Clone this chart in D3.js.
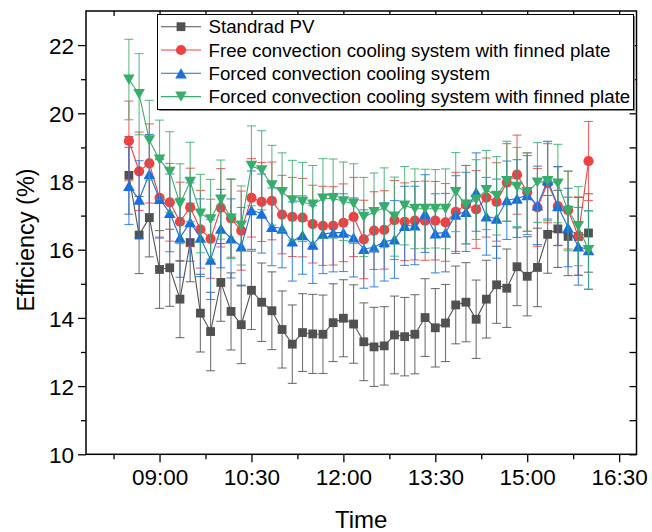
<!DOCTYPE html>
<html><head><meta charset="utf-8">
<script src="https://cdn.jsdelivr.net/npm/d3@7"></script>
<style>
body{margin:0;background:#fff}
svg{display:block}
text{font-family:"Liberation Sans",Arial,Helvetica,sans-serif;fill:#000}
</style>
</head><body>
<svg id="chart" width="652" height="532"></svg>
<script>
// ---------- DATA ----------
const times = ["08:30","08:40","08:50","09:00","09:10","09:20","09:30","09:40","09:50","10:00",
  "10:10","10:20","10:30","10:40","10:50","11:00","11:10","11:20","11:30","11:40",
  "11:50","12:00","12:10","12:20","12:30","12:40","12:50","13:00","13:10","13:20",
  "13:30","13:40","13:50","14:00","14:10","14:20","14:30","14:40","14:50","15:00",
  "15:10","15:20","15:30","15:40","15:50","16:00"];

const seriesNames = ["Standrad PV",
  "Free convection cooling system with finned plate",
  "Forced convection cooling system",
  "Forced convection cooling system with finned plate"];

const standardPV = [18.18,16.43,16.94,15.42,15.47,14.55,16.21,14.14,13.60,15.04,
  14.19,13.80,14.81,14.46,14.21,13.66,13.23,13.57,13.53,13.52,
  13.86,13.99,13.82,13.30,13.15,13.18,13.50,13.45,13.52,14.01,
  13.71,13.85,14.38,14.46,13.96,14.55,14.97,14.87,15.50,15.22,
  15.48,16.45,16.61,16.39,16.39,16.49];
const freeFinned = [19.19,18.30,18.53,17.52,17.39,16.82,17.24,16.60,16.32,17.23,
  16.92,16.56,17.52,17.40,17.43,17.03,16.96,16.94,16.75,16.70,
  16.70,16.79,16.96,16.30,16.56,16.58,16.87,16.82,16.85,16.85,
  16.85,16.80,17.11,17.32,17.18,17.53,17.40,17.97,18.20,17.69,
  17.24,17.95,17.28,17.16,16.40,18.60];
const forced = [17.87,17.47,18.22,17.49,17.08,16.35,16.81,16.35,15.71,16.62,
  16.33,16.10,17.16,17.06,16.67,16.62,16.24,16.43,16.15,16.46,
  16.50,16.50,16.36,16.02,16.07,16.23,16.30,16.70,16.71,17.06,
  16.48,16.50,17.03,17.11,17.69,16.98,16.91,17.45,17.50,17.60,
  17.30,18.04,17.28,16.65,16.10,15.99];
const forcedFinned = [20.99,20.56,19.21,18.64,18.28,17.35,17.99,17.06,16.89,17.47,
  16.91,16.71,18.46,18.33,17.89,17.69,17.45,17.40,17.32,17.50,
  17.50,17.42,17.35,16.96,17.10,17.23,16.97,17.29,17.20,17.20,
  17.20,17.20,17.69,17.32,17.47,17.75,17.58,18.01,17.84,17.69,
  17.97,18.01,17.94,17.14,16.69,15.99];

const errStandard = [1.14,1.13,1.15,1.14,1.13,1.13,1.15,1.14,1.15,1.14,
  1.13,1.14,1.15,1.15,1.14,1.13,1.15,1.14,1.16,1.15,1.14,1.13,1.15,1.14,1.16,
  1.15,1.14,1.15,1.16,1.14,1.15,1.13,1.14,1.16,1.15,1.14,1.13,1.15,1.14,1.16,
  1.15,1.14,1.13,1.15,1.14,1.15];
const errFreeFinned = [1.17,1.15,1.16,1.15,1.14,1.16,1.15,1.14,1.16,1.15,
  1.14,1.16,1.15,1.16,1.14,1.15,1.16,1.15,1.14,1.16,1.15,1.14,1.16,1.15,1.14,
  1.15,1.16,1.14,1.15,1.16,1.15,1.14,1.16,1.15,1.14,1.16,1.15,1.14,1.16,1.15,
  1.14,1.16,1.15,1.14,1.15,1.16];
const errForced = [1.13,1.14,1.16,1.15,1.14,1.16,1.15,1.14,1.17,1.15,
  1.16,1.14,1.15,1.16,1.14,1.15,1.16,1.15,1.14,1.16,1.15,1.14,1.16,1.15,1.16,
  1.15,1.14,1.16,1.15,1.14,1.16,1.15,1.14,1.16,1.15,1.14,1.16,1.15,1.14,1.16,
  1.15,1.14,1.16,1.15,1.14,1.15];
const errForcedFinned = [1.18,1.19,1.17,1.16,1.18,1.17,1.16,1.15,1.17,1.16,
  1.17,1.16,1.17,1.16,1.17,1.15,1.17,1.16,1.15,1.17,1.16,1.15,1.17,1.16,1.15,
  1.17,1.16,1.15,1.17,1.16,1.15,1.17,1.16,1.15,1.17,1.16,1.15,1.17,1.16,1.15,
  1.17,1.16,1.15,1.17,1.16,1.15];

const xMajorTicks = ["09:00","10:30","12:00","13:30","15:00","16:30"];
const xMinorTicks = ["08:15","09:45","11:15","12:45","14:15","15:45"];
const yMajorTicks = [10,12,14,16,18,20,22];
const yMinorTicks = [11,13,15,17,19,21];
const xDomain = ["07:48","16:47"];
const yDomain = [10,23];

const colors = ["#515151","#F14040","#1A6FDF","#37AD6B"];
const shapes = ["square","circle","triUp","triDown"];

// ---------- HELPERS ----------
const toMin = s => { const [h,m] = s.split(":").map(Number); return h*60+m; };
const fmt = m => String(Math.floor(m/60)).padStart(2,"0")+":"+String(m%60).padStart(2,"0");

const svg = d3.select("#chart");
const W = 652, H = 532;
const margin = {left:86, right:W-636.5, top:11, bottom:H-454.3};

const x = d3.scaleLinear().domain(xDomain.map(toMin)).range([margin.left, W-margin.right]);
const y = d3.scaleLinear().domain(yDomain).range([H-margin.bottom, margin.top]);

const tMin = times.map(toMin);
const seriesValues = [standardPV, freeFinned, forced, forcedFinned];
const seriesErr = [errStandard, errFreeFinned, errForced, errForcedFinned];

function marker(g, shape, cx, cy, color){
  if(shape==="square"){
    g.append("rect").attr("x",cx-4.4).attr("y",cy-4.4).attr("width",8.8).attr("height",8.8)
      .attr("fill",color);
  } else if(shape==="circle"){
    g.append("circle").attr("cx",cx).attr("cy",cy).attr("r",5.1).attr("fill",color);
  } else if(shape==="triUp"){
    const w=5.8,h=5.1;
    g.append("path").attr("d",`M${cx},${cy-h}L${cx+w},${cy+h}L${cx-w},${cy+h}Z`).attr("fill",color);
  } else {
    const w=5.8,h=5.1;
    g.append("path").attr("d",`M${cx-w},${cy-h}L${cx+w},${cy-h}L${cx},${cy+h}Z`).attr("fill",color);
  }
}

// ---------- AXES ----------
const axG = svg.append("g");
axG.append("g").attr("transform",`translate(0,${y(yDomain[0])})`)
  .call(d3.axisBottom(x).tickValues(xMajorTicks.map(toMin)).tickFormat(fmt).tickSize(8).tickSizeOuter(0))
  .call(g=>{g.select(".domain").remove();
    g.selectAll("line").attr("stroke","#000").attr("stroke-width",1.3);
    g.selectAll("text").attr("font-size",22.5).attr("dy","0.93em").attr("y",9.5);});
axG.append("g").attr("transform",`translate(0,${y(yDomain[0])})`)
  .call(d3.axisBottom(x).tickValues(xMinorTicks.map(toMin)).tickFormat("").tickSize(5).tickSizeOuter(0))
  .call(g=>{g.select(".domain").remove();g.selectAll("line").attr("stroke","#000").attr("stroke-width",1.3);});
axG.append("g").attr("transform",`translate(0,${y(yDomain[1])})`)
  .call(d3.axisTop(x).tickValues(xMajorTicks.concat(xMinorTicks).map(toMin)).tickFormat("").tickSize(-5).tickSizeOuter(0))
  .call(g=>{g.select(".domain").remove();g.selectAll("line").attr("stroke","#000").attr("stroke-width",1.3);});
axG.append("g").attr("transform",`translate(${x(toMin(xDomain[0]))},0)`)
  .call(d3.axisLeft(y).tickValues(yMajorTicks).tickFormat(d3.format("d")).tickSize(8).tickSizeOuter(0))
  .call(g=>{g.select(".domain").remove();
    g.selectAll("line").attr("stroke","#000").attr("stroke-width",1.3);
    g.selectAll("text").attr("font-size",22.5).attr("x",-12).attr("dy","0.36em");});
axG.append("g").attr("transform",`translate(${x(toMin(xDomain[0]))},0)`)
  .call(d3.axisLeft(y).tickValues(yMinorTicks).tickFormat("").tickSize(5).tickSizeOuter(0))
  .call(g=>{g.select(".domain").remove();g.selectAll("line").attr("stroke","#000").attr("stroke-width",1.3);});
axG.append("g").attr("transform",`translate(${x(toMin(xDomain[1]))},0)`)
  .call(d3.axisRight(y).tickValues(yMajorTicks.concat(yMinorTicks)).tickFormat("").tickSize(-7).tickSizeOuter(0))
  .call(g=>{g.select(".domain").remove();g.selectAll("line").attr("stroke","#000").attr("stroke-width",1.3);});

svg.append("text").attr("x",(x.range()[0]+x.range()[1])/2).attr("y",528)
  .attr("text-anchor","middle").attr("font-size",24).text("Time");
svg.append("text").attr("transform",`translate(34,240) rotate(-90)`)
  .attr("text-anchor","middle").attr("font-size",23.5).text("Efficiency (%)");

// ---------- SERIES ----------
const plot = svg.append("g");
seriesValues.forEach((vals,si)=>{
  const g = plot.append("g");
  const c = colors[si];
  const errs = seriesErr[si];
  const eb = g.append("g").attr("stroke",c).attr("stroke-width",1.1).attr("stroke-opacity",0.8);
  vals.forEach((v,i)=>{
    const cx = x(tMin[i]), y1 = y(v+errs[i]), y2 = y(v-errs[i]);
    eb.append("line").attr("x1",cx).attr("x2",cx).attr("y1",y1).attr("y2",y2);
    eb.append("line").attr("x1",cx-4.5).attr("x2",cx+4.5).attr("y1",y1).attr("y2",y1);
    eb.append("line").attr("x1",cx-4.5).attr("x2",cx+4.5).attr("y1",y2).attr("y2",y2);
  });
  const line = d3.line().x((d,i)=>x(tMin[i])).y(d=>y(d));
  g.append("path").attr("d",line(vals)).attr("fill","none").attr("stroke",c).attr("stroke-width",1.1);
  const mg = g.append("g");
  vals.forEach((v,i)=>marker(mg, shapes[si], x(tMin[i]), y(v), c));
});

svg.append("rect").attr("x",x.range()[0]).attr("y",y.range()[1])
  .attr("width",x.range()[1]-x.range()[0]).attr("height",y.range()[0]-y.range()[1])
  .attr("fill","none").attr("stroke","#000").attr("stroke-width",1.5);

// ---------- LEGEND ----------
const lg = svg.append("g");
const lx0 = 157.5, ly0 = 14.5, lx1 = 633.5, ly1 = 109.5;
lg.append("rect").attr("x",lx0+1.5).attr("y",ly0+1.5).attr("width",lx1-lx0).attr("height",ly1-ly0)
  .attr("fill","#888");
lg.append("rect").attr("x",lx0).attr("y",ly0).attr("width",lx1-lx0).attr("height",ly1-ly0)
  .attr("fill","#fff").attr("stroke","#000").attr("stroke-width",1);
seriesNames.forEach((name,si)=>{
  const cy = 26.7 + si*23.3;
  lg.append("line").attr("x1",161).attr("x2",201).attr("y1",cy).attr("y2",cy)
    .attr("stroke",colors[si]).attr("stroke-width",1.1);
  marker(lg, shapes[si], 181, cy, colors[si]);
  lg.append("text").attr("x",208.5).attr("y",cy+6.6).attr("font-size",18.7).text(name);
});
</script>
</body></html>
